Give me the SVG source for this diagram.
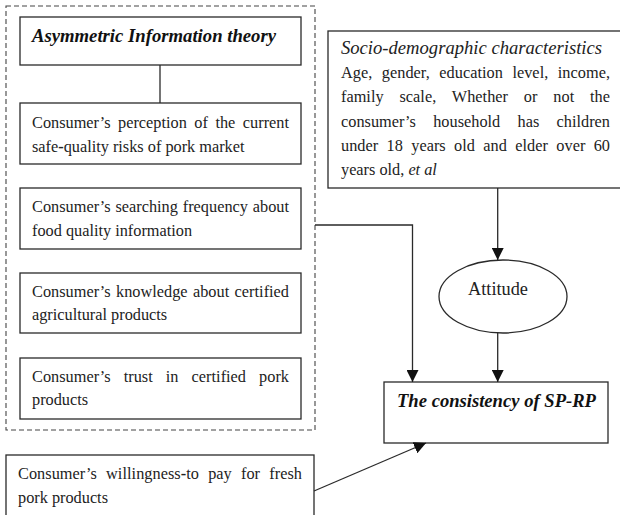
<svg xmlns="http://www.w3.org/2000/svg" width="620" height="515" viewBox="0 0 620 515">
<style>
  .box { fill: #fff; stroke: #2a2a2a; stroke-width: 1.3; }
  .dash { fill: none; stroke: #444; stroke-width: 1.1; stroke-dasharray: 5 3; }
  .t { font-family: "Liberation Serif", "Times New Roman", serif; font-size: 16.3px; fill: #222; }
  .bi { font-family: "Liberation Serif", "Times New Roman", serif; font-weight: bold; font-style: italic; fill: #111; }
  .it { font-style: italic; }
  .conn { fill: none; stroke: #2a2a2a; stroke-width: 1.3; }
</style>
<defs>
  <marker id="arr" viewBox="0 0 12 12" refX="12" refY="6" markerWidth="12" markerHeight="12" markerUnits="userSpaceOnUse" orient="auto">
    <path d="M0,0 L12,6 L0,12 Z" fill="#111"/>
  </marker>
</defs>

<rect class="dash" x="6" y="6" width="309" height="424"/>

<g id="asym">
  <rect class="box" x="20" y="17" width="281" height="48"/>
  <text class="bi" x="32" y="42" font-size="18.7" textLength="244" lengthAdjust="spacingAndGlyphs">Asymmetric Information theory</text>
</g>

<g id="perception">
  <rect class="box" x="20" y="103" width="281" height="61"/>
  <text class="t" x="32" y="128" word-spacing="3.4" textLength="257" lengthAdjust="spacing">Consumer’s perception of the current</text>
  <text class="t" x="32" y="152">safe<tspan font-weight="bold">-</tspan>quality risks of pork market</text>
</g>

<g id="searching">
  <rect class="box" x="20" y="188" width="281" height="61"/>
  <text class="t" x="32" y="212" word-spacing="0.7" textLength="257" lengthAdjust="spacing">Consumer’s searching frequency about</text>
  <text class="t" x="32" y="236">food quality information</text>
</g>

<g id="knowledge">
  <rect class="box" x="20" y="273" width="281" height="60"/>
  <text class="t" x="32" y="297" word-spacing="1.3" textLength="257" lengthAdjust="spacing">Consumer’s knowledge about certified</text>
  <text class="t" x="32" y="320">agricultural products</text>
</g>

<g id="trust">
  <rect class="box" x="20" y="358" width="281" height="61"/>
  <text class="t" x="32" y="382" word-spacing="9" textLength="257" lengthAdjust="spacing">Consumer’s trust in certified pork</text>
  <text class="t" x="32" y="405">products</text>
</g>

<g id="socio">
  <rect class="box" x="328" y="31" width="300" height="157"/>
  <text class="t it" x="341" y="54" style="font-size:19px" textLength="261" lengthAdjust="spacingAndGlyphs">Socio-demographic characteristics</text>
  <text class="t" x="341" y="78" word-spacing="5.4" textLength="269" lengthAdjust="spacing">Age, gender, education level, income,</text>
  <text class="t" x="341" y="102" word-spacing="11.8" textLength="269" lengthAdjust="spacing">family scale, Whether or not the</text>
  <text class="t" x="341" y="126.5" word-spacing="13.2" textLength="269" lengthAdjust="spacing">consumer’s household has children</text>
  <text class="t" x="341" y="150.5" word-spacing="4.3" textLength="269" lengthAdjust="spacing">under 18 years old and elder over 60</text>
  <text class="t" x="341" y="175">years old, <tspan class="it">et al</tspan></text>
</g>

<g id="attitude">
  <ellipse class="box" cx="503" cy="296.5" rx="64" ry="36.5"/>
  <text class="t" x="498" y="295" style="font-size:18.3px" text-anchor="middle">Attitude</text>
</g>

<g id="sprp">
  <rect class="box" x="384" y="382" width="224" height="61"/>
  <text class="bi" x="397" y="407" font-size="18.6" textLength="199" lengthAdjust="spacingAndGlyphs">The consistency of SP-RP</text>
</g>

<g id="willingness">
  <rect class="box" x="6" y="455" width="308" height="70"/>
  <text class="t" x="18" y="479" word-spacing="5.1" textLength="284" lengthAdjust="spacing">Consumer’s willingness<tspan font-weight="bold">-</tspan>to pay for fresh</text>
  <text class="t" x="18" y="503">pork products</text>
</g>

<g id="connectors">
  <line class="conn" x1="160" y1="65" x2="160" y2="103"/>
  <line class="conn" x1="497.7" y1="188" x2="497.7" y2="260" marker-end="url(#arr)"/>
  <line class="conn" x1="497.7" y1="333" x2="497.7" y2="382" marker-end="url(#arr)"/>
  <path class="conn" d="M315,225 H412.5 V382" marker-end="url(#arr)"/>
  <line class="conn" x1="314" y1="491" x2="426" y2="443" marker-end="url(#arr)"/>
</g>
</svg>
